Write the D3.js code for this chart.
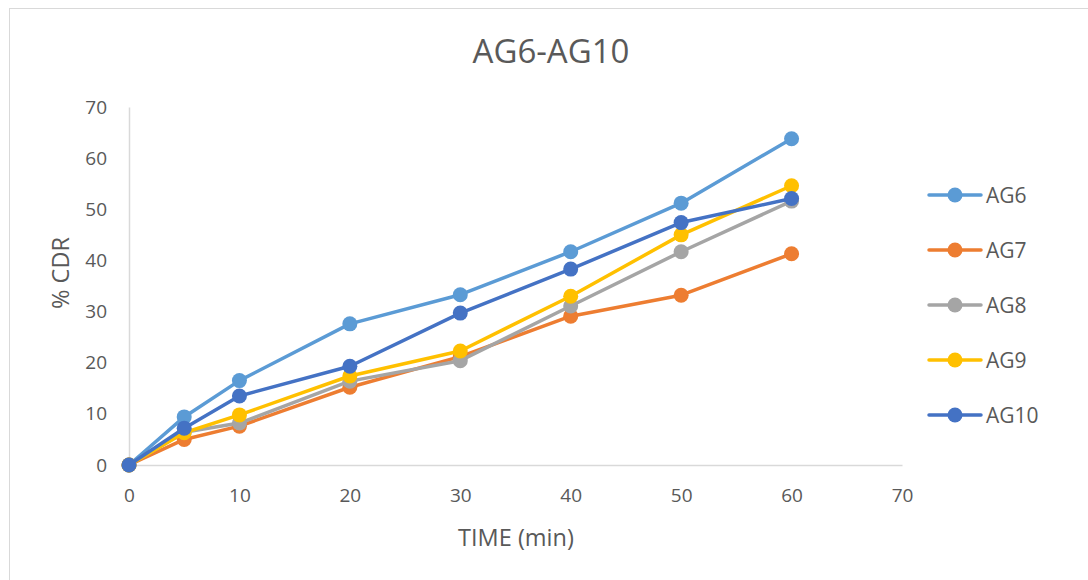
<!DOCTYPE html>
<html>
<head>
<meta charset="utf-8">
<script src="https://cdn.jsdelivr.net/npm/d3@7"></script>
<style>
  body { margin: 0; background: #fff; }
  text { font-family: "Open Sans", "Noto Sans", sans-serif; fill: #595959; }
</style>
</head>
<body>
<div class="graph"></div>
<script>
// data
const times = [0, 5, 10, 20, 30, 40, 50, 60];
const ag6 = [0, 9.4, 16.5, 27.6, 33.3, 41.7, 51.2, 63.8];
const ag7 = [0, 5.0, 7.6, 15.2, 21.2, 29.1, 33.2, 41.3];
const ag8 = [0, 6.4, 8.2, 16.4, 20.4, 31.1, 41.7, 51.6];
const ag9 = [0, 6.3, 9.8, 17.4, 22.3, 33.0, 45.0, 54.6];
const ag10 = [0, 7.2, 13.5, 19.3, 29.7, 38.3, 47.4, 52.1];
const seriesNames = ["AG6", "AG7", "AG8", "AG9", "AG10"];
const colors = ["#5B9BD5", "#ED7D31", "#A5A5A5", "#FFC000", "#4472C4"];
const xTicks = [0, 10, 20, 30, 40, 50, 60, 70];
const yTicks = [0, 10, 20, 30, 40, 50, 60, 70];

const series = [ag6, ag7, ag8, ag9, ag10].map(function(vals, i) {
  return { name: seriesNames[i], color: colors[i],
           points: vals.map(function(v, j) { return { t: times[j], v: v }; }) };
});

const W = 1088, H = 580;
const margin = {top: 107, right: 186, bottom: 115, left: 129};
const width = W - margin.left - margin.right,
      height = H - margin.top - margin.bottom;

const svg = d3.select(".graph").append("svg")
  .attr("width", W)
  .attr("height", H);

// chart border
svg.append("rect")
  .attr("x", 9.5).attr("y", 8.5)
  .attr("width", W + 20).attr("height", H + 20)
  .attr("fill", "none").attr("stroke", "#d9d9d9").attr("stroke-width", 1);

svg.append("text")
  .attr("x", 551).attr("y", 50)
  .attr("text-anchor", "middle").attr("dominant-baseline", "central")
  .style("font-size", "33px")
  .text("AG6-AG10");

const g = svg.append("g")
  .attr("transform", "translate(" + margin.left + "," + margin.top + ")");

var x = d3.scaleLinear().domain([0, 70]).range([0, width]);
var y = d3.scaleLinear().domain([0, 70]).range([height, 0]);

// X axis
const xAxis = g.append("g")
  .attr("transform", "translate(0," + height + ")")
  .call(d3.axisBottom(x).tickValues(xTicks).tickSize(0).tickPadding(24));
xAxis.select(".domain").attr("stroke", "#d9d9d9").attr("stroke-width", 1.5);
xAxis.selectAll("text").style("font-size", "19px").attr("fill", "#595959");

// Y axis
const yAxis = g.append("g")
  .call(d3.axisLeft(y).tickValues(yTicks).tickSize(0).tickPadding(22));
yAxis.select(".domain").attr("stroke", "#d9d9d9").attr("stroke-width", 1.5);
yAxis.selectAll("text").style("font-size", "19px").attr("fill", "#595959");

// axis titles
svg.append("text")
  .attr("x", 516).attr("y", 537)
  .attr("text-anchor", "middle").attr("dominant-baseline", "central")
  .style("font-size", "23.5px")
  .text("TIME (min)");
svg.append("text")
  .attr("transform", "translate(60,273) rotate(-90)")
  .attr("text-anchor", "middle").attr("dominant-baseline", "central")
  .style("font-size", "23.5px")
  .text("% CDR");

const line = d3.line()
  .x(function(d) { return x(d.t); })
  .y(function(d) { return y(d.v); });

series.forEach(function(s) {
  g.append("path")
    .datum(s.points)
    .attr("fill", "none")
    .attr("stroke", s.color)
    .attr("stroke-width", 3.5)
    .attr("stroke-linejoin", "round")
    .attr("d", line);
  g.selectAll(null)
    .data(s.points)
    .enter().append("circle")
    .attr("cx", function(d) { return x(d.t); })
    .attr("cy", function(d) { return y(d.v); })
    .attr("r", 7.5)
    .attr("fill", s.color);
});

// legend
const legend = svg.append("g");
series.forEach(function(s, i) {
  const ly = 195 + i * 55;
  legend.append("line")
    .attr("x1", 929).attr("x2", 981).attr("y1", ly).attr("y2", ly)
    .attr("stroke", s.color).attr("stroke-width", 3.5).attr("stroke-linecap", "round");
  legend.append("circle")
    .attr("cx", 955).attr("cy", ly).attr("r", 7.5).attr("fill", s.color);
  legend.append("text")
    .attr("x", 986).attr("y", ly)
    .attr("dominant-baseline", "central")
    .style("font-size", "21px")
    .text(s.name);
});
</script>
</body>
</html>
